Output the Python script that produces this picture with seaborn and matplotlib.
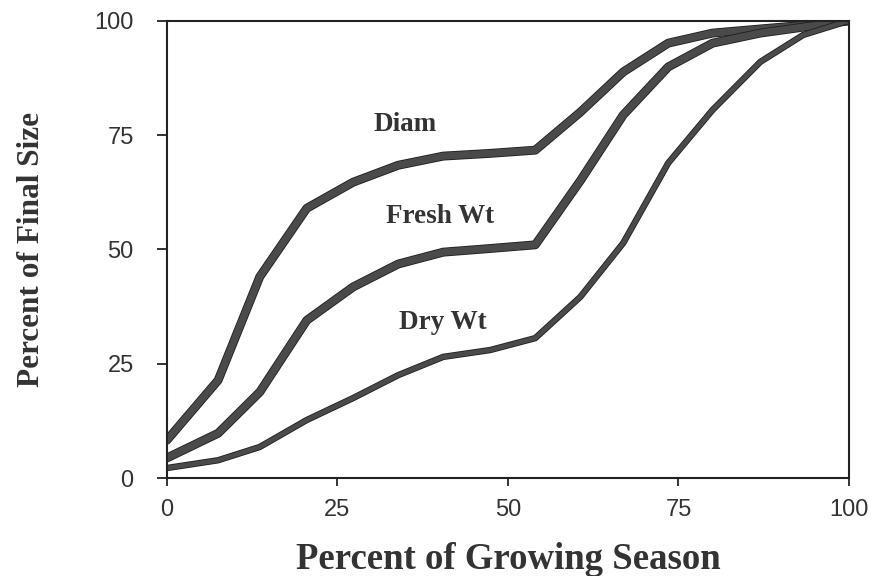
import numpy as np
import pandas as pd
import seaborn as sns
import matplotlib.pyplot as plt
import matplotlib.patheffects as pe

# percent of growing season (sample points)
season = [0, 7.5, 13.6, 20.5, 27.3, 33.9, 40.5, 47.4, 54, 60.6, 66.9, 73.5, 80, 87, 93.3, 100]

# percent of final size
diam = [8.3, 21.4, 44, 59, 64.7, 68.4, 70.4, 71, 71.7, 80, 88.8, 95.1, 97.3, 98.2, 99, 100]
fresh_wt = [4.4, 9.8, 18.8, 34.5, 41.8, 46.8, 49.4, 50.2, 51, 65, 79.4, 89.9, 95.1, 97.3, 98.6, 100]
dry_wt = [2.2, 3.9, 6.8, 12.7, 17.5, 22.5, 26.5, 28, 30.6, 39.6, 51.4, 68.9, 80.5, 91, 96.9, 100]

series_names = ["Diam", "Fresh Wt", "Dry Wt"]
label_pos = {"Diam": (34.9, 77.3), "Fresh Wt": (40, 57.2), "Dry Wt": (40.5, 34.1)}

df = pd.DataFrame({
    "season": season * 3,
    "size": diam + fresh_wt + dry_wt,
    "series": np.repeat(series_names, len(season)),
})

sns.set_style("ticks")
plt.rcParams['font.family'] = ['Liberation Sans', 'DejaVu Sans']

fig, ax = plt.subplots(figsize=(8.72, 5.76), dpi=100)
fig.subplots_adjust(left=0.1915, right=0.9736, top=0.964, bottom=0.170)

widths = {"Diam": 5.2, "Fresh Wt": 5.2, "Dry Wt": 3.4}
for name in series_names:
    sns.lineplot(data=df[df["series"] == name], x="season", y="size",
                 color="#4a4a4a", linewidth=widths[name], ax=ax,
                 path_effects=[pe.Stroke(linewidth=widths[name] + 1.2, foreground="#1e1e1e"), pe.Normal()])

for name in series_names:
    x, y = label_pos[name]
    ax.text(x, y, name, ha="center", va="center", fontsize=19.5, fontweight="bold",
            family="Liberation Serif", color="#333333")

ax.set_xlim(0, 100)
ax.set_ylim(0, 100)
ax.set_xticks([0, 25, 50, 75, 100])
ax.set_yticks([0, 25, 50, 75, 100])
ax.tick_params(axis="both", labelsize=17, width=1.3, color="#222222", labelcolor="#333333")
ax.tick_params(axis="x", length=6, pad=9)
ax.tick_params(axis="y", length=7, pad=17)
for s in ax.spines.values():
    s.set_linewidth(1.5)
    s.set_color("#222222")

ax.set_xlabel("Percent of Growing Season", fontsize=26.5, fontweight="bold",
              family="Liberation Serif", color="#333333")
ax.set_ylabel("Percent of Final Size", fontsize=22.5, fontweight="bold",
              family="Liberation Serif", color="#333333")
ax.xaxis.label.set_va("center")
ax.yaxis.label.set_va("center")
ax.xaxis.set_label_coords(0.5, -0.177)
ax.yaxis.set_label_coords(-0.198, 0.5)

fig.savefig("out.png", dpi=100)
